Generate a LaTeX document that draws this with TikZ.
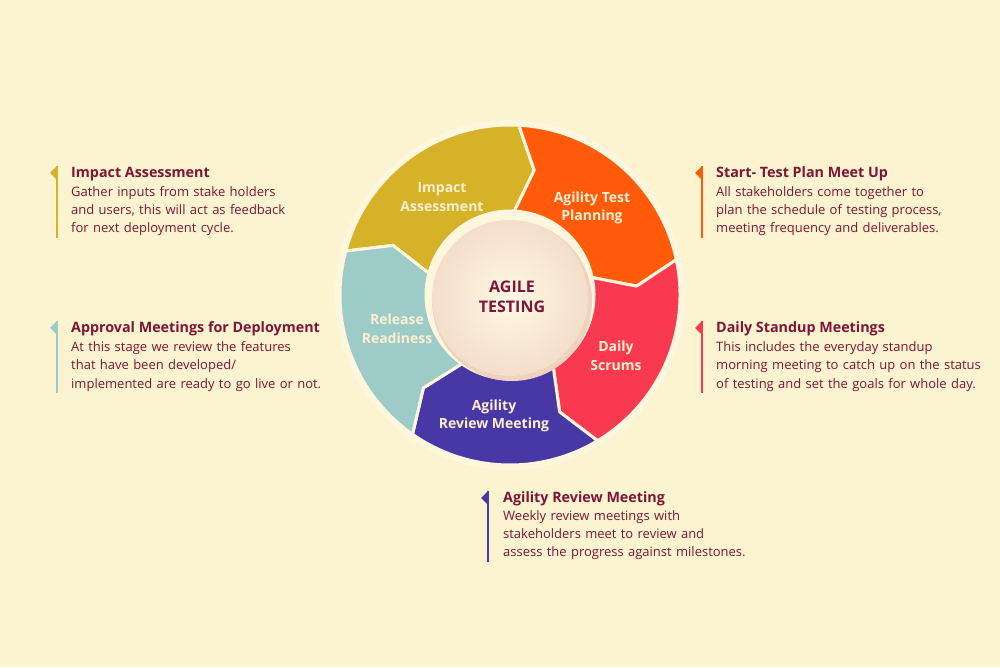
\documentclass[tikz,border=0pt]{standalone}
\usepackage{fontspec}
\setmainfont{Open Sans}
\definecolor{bg}{HTML}{FCF4D0}
\definecolor{ring}{HTML}{FFF6DE}
\definecolor{segyellow}{HTML}{D6B229}
\definecolor{segorange}{HTML}{FF5B0A}
\definecolor{segred}{HTML}{F8394F}
\definecolor{segpurple}{HTML}{4838A6}
\definecolor{segteal}{HTML}{9DCBC7}
\definecolor{maroon}{HTML}{7E1536}
\definecolor{labelcream}{HTML}{FDF0D2}
\definecolor{hubedge}{HTML}{EED3BE}
\definecolor{hubin}{HTML}{FFF8E4}
\begin{document}
\begin{tikzpicture}[x=1pt,y=1pt,
  seg/.style={draw=ring, line width=3pt, line join=round},
  seglabel/.style={text=labelcream, font=\bfseries\fontsize{14}{18.5}\selectfont, align=center, inner sep=0},
  hublabel/.style={text=maroon, font=\bfseries\fontsize{16}{19.5}\selectfont, align=center, inner sep=0},
  head/.style={text=maroon, font=\bfseries\fontsize{14.3}{18}\selectfont, anchor=base west, inner sep=0},
  body/.style={text=maroon, font=\fontsize{13}{18}\selectfont, anchor=base west, inner sep=0, text width=330pt, align=left},
  markline/.style={line width=1.6pt},
]
\useasboundingbox (0,0) rectangle (1000,667);
\fill[bg] (0,0) rectangle (1000,667);

% wheel
\begin{scope}[shift={(510,372)}]
  \fill[ring] (0,0) circle[radius=175pt];
  \foreach \a/\b/\c in {165/87/segyellow, 87/12/segorange, 12/-59/segred, -59/-125/segpurple, -125/-195/segteal}{
    \filldraw[seg, fill=\c] (\a:170) arc[start angle=\a, end angle=\b, radius=170pt]
      -- ({\b-8}:127) -- (\b:84) arc[start angle=\b, end angle=\a, radius=84pt]
      -- ({\a-8}:127) -- cycle;
  }
  \fill[hubedge] (2,-6) circle[radius=80pt];
  \shade[inner color=hubin, outer color=hubedge!70!hubin] (0,-3) circle[radius=78pt];
\end{scope}

\node[hublabel] (hub) at (512,370) {AGILE\\TESTING};
\node[seglabel] (l1) at (442,470) {Impact\\Assessment};
\node[seglabel] (l2) at (592,459) {Agility Test\\Planning};
\node[seglabel] (l3) at (616,311) {Daily\\Scrums};
\node[seglabel] (l4) at (494,251) {Agility\\Review Meeting};
\node[seglabel] (l5) at (397,338) {Release\\Readiness};

% text blocks
% 1 left top
\coordinate (m1a) at (57,501); \coordinate (m1b) at (57,429);
\draw[markline, segyellow] (m1a) -- (m1b);
\fill[segyellow] (57,501) -- (57,487) -- (50,494) -- cycle;
\node[head] (h1) at (71,489) {Impact Assessment};
\node[body] (b1) at (71,470) {Gather inputs from stake holders\\and users, this will act as feedback\\for next deployment cycle.};
% 2 left bottom
\coordinate (m2a) at (57,346); \coordinate (m2b) at (57,274);
\draw[markline, segteal] (m2a) -- (m2b);
\fill[segteal] (57,346) -- (57,332) -- (50,339) -- cycle;
\node[head] (h2) at (71,334) {Approval Meetings for Deployment};
\node[body] (b2) at (71,315) {At this stage we review the features\\that have been developed/\\implemented are ready to go live or not.};
% 3 right top
\coordinate (m3a) at (702,501); \coordinate (m3b) at (702,429);
\draw[markline, segorange] (m3a) -- (m3b);
\fill[segorange] (702,501) -- (702,487) -- (695,494) -- cycle;
\node[head] (h3) at (716,489) {Start- Test Plan Meet Up};
\node[body] (b3) at (716,470) {All stakeholders come together to\\plan the schedule of testing process,\\meeting frequency and deliverables.};
% 4 right middle
\coordinate (m4a) at (702,346); \coordinate (m4b) at (702,274);
\draw[markline, segred] (m4a) -- (m4b);
\fill[segred] (702,346) -- (702,332) -- (695,339) -- cycle;
\node[head] (h4) at (716,334) {Daily Standup Meetings};
\node[body] (b4) at (716,315) {This includes the everyday standup\\morning meeting to catch up on the status\\of testing and set the goals for whole day.};
% 5 bottom
\coordinate (m5a) at (488,176); \coordinate (m5b) at (488,105);
\draw[markline, segpurple] (m5a) -- (m5b);
\fill[segpurple] (488,176) -- (488,162) -- (481,169) -- cycle;
\node[head] (h5) at (503,165) {Agility Review Meeting};
\node[body] (b5) at (503,147) {Weekly review meetings with\\stakeholders meet to review and\\assess the progress against milestones.};
\end{tikzpicture}
\end{document}
